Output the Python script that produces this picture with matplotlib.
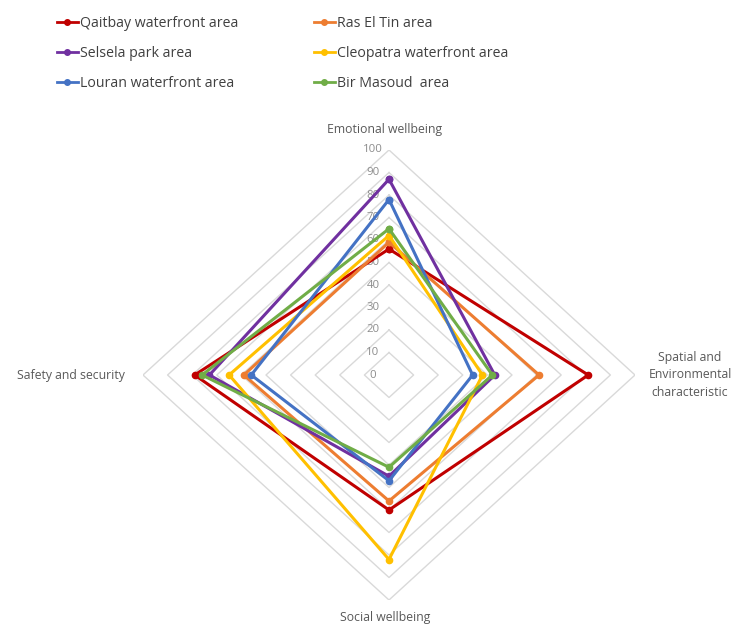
import numpy as np
import matplotlib
matplotlib.use("Agg")
import matplotlib.pyplot as plt
from matplotlib.transforms import offset_copy
from matplotlib.lines import Line2D

plt.rcParams['font.family'] = ['Open Sans', 'DejaVu Sans']

categories = ["Emotional wellbeing",
              "Spatial and\nEnvironmental\ncharacteristic",
              "Social wellbeing",
              "Safety and security"]

series_names = ["Qaitbay waterfront area", "Ras El Tin area", "Selsela park area",
                "Cleopatra waterfront area", "Louran waterfront area", "Bir Masoud  area"]

qaitbay = [56, 81, 60, 79]
ras_el_tin = [59, 61, 56, 59]
selsela = [87, 43, 45, 73]
cleopatra = [62, 38, 82, 65]
louran = [78, 34, 47, 56]
bir_masoud = [65, 42, 41, 76]

series_values = [qaitbay, ras_el_tin, selsela, cleopatra, louran, bir_masoud]
colors = ["#C00000", "#ED7D31", "#7030A0", "#FFC000", "#4472C4", "#70AD47"]

r_ticks = list(range(0, 101, 10))

fig = plt.figure(figsize=(7.33, 6.25), dpi=100)
ax = fig.add_axes([143 / 733, 25 / 625, 492 / 733, 450 / 625], projection="polar")
ax.set_theta_zero_location("N")
ax.set_theta_direction(-1)
ax.set_aspect("auto")
ax.set_ylim(0, 100)
ax.grid(False)
ax.spines["polar"].set_visible(False)
ax.set_xticks([])
ax.set_yticks([])
ax.patch.set_visible(False)

n = len(categories)
angles = np.linspace(0, 2 * np.pi, n, endpoint=False)
closed = np.append(angles, angles[0])

# polygon grid
for r in r_ticks[1:]:
    ax.plot(closed, [r] * (n + 1), color="#D9D9D9", lw=1.0, zorder=1)

# radial tick labels along the top spoke
lab_tr = offset_copy(ax.transData, fig=fig, x=-16, y=0, units="dots")
for r in r_ticks:
    ax.text(0, r, str(r), transform=lab_tr, ha="center", va="center",
            fontsize=8.2, color="#8C8C8C")

# data series
for name, vals, c in zip(series_names, series_values, colors):
    v = list(vals) + [vals[0]]
    ax.plot(closed, v, color=c, lw=2.2, marker="o", markersize=4.5, zorder=3,
            label=name)

# category labels
lab_kw = dict(ha="center", va="center", fontsize=8.8, color="#595959")
fig.text(385 / 733, 1 - 130 / 625, categories[0], **lab_kw)
fig.text(690 / 733, 1 - 375 / 625, categories[1], linespacing=1.45, **lab_kw)
fig.text(385 / 733, 1 - 618 / 625, categories[2], **lab_kw)
fig.text(71 / 733, 1 - 375 / 625, categories[3], **lab_kw)

# legend: two columns, read row-wise
handles = [Line2D([0], [0], color=c, lw=2.0, marker="o", markersize=4)
           for c in colors]
order = [0, 2, 4, 1, 3, 5]
fig.legend([handles[i] for i in order], [series_names[i] for i in order],
           ncol=2, loc="upper left", bbox_to_anchor=(44 / 733, 1 - 3 / 625),
           frameon=False, fontsize=10.2, handlelength=1.5, handletextpad=0.15,
           columnspacing=5.3, labelspacing=1.05, labelcolor="#404040")

fig.savefig("out.png", dpi=100, facecolor="white")
